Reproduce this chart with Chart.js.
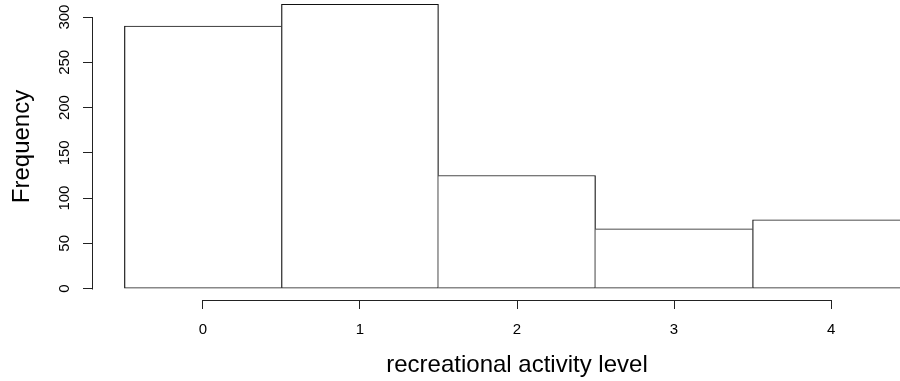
<!DOCTYPE html>
<html>
<head>
<meta charset="utf-8">
<title>Recreational activity level</title>
<script src="https://cdn.jsdelivr.net/npm/chart.js@4/dist/chart.umd.min.js"></script>
<style>
  html, body { margin: 0; padding: 0; background: #fff; overflow: hidden; }
  /* plot region runs past the right and top edges of the page, like R's usr range */
  #wrap { width: 941px; height: 388px; margin-top: -7px; }
</style>
</head>
<body>
<div id="wrap"><canvas id="histChart"></canvas></div>
<script>
// Histogram data: activity level (bin centre) and number of respondents
const activityLevels = [0, 1, 2, 3, 4];
const frequencies = [290, 314, 125, 66, 76];

// Axis ticks
const xTicks = [0, 1, 2, 3, 4];
const yTicks = [0, 50, 100, 150, 200, 250, 300];

const FONT = 'Liberation Sans, Arial, Helvetica, sans-serif';
const INK = '#222';

// Only draw a shared side once (on the taller bar)
function barBorder(ctx) {
    const i = ctx.dataIndex;
    const h = frequencies[i];
    const prev = i > 0 ? frequencies[i - 1] : -Infinity;
    const next = i < frequencies.length - 1 ? frequencies[i + 1] : -Infinity;
    return {
        top: 1,
        bottom: 1,
        left: prev < h ? 1.2 : 0,
        right: next <= h ? 1.2 : 0
    };
}

// R-style axis lines: they only span the first to the last tick
const axisLines = {
    id: 'axisLines',
    afterDraw(chart) {
        const { ctx, scales: { x, y } } = chart;
        ctx.save();
        ctx.strokeStyle = INK;
        ctx.lineWidth = 1;
        ctx.beginPath();
        const yx = Math.round(y.right) - 0.5;
        ctx.moveTo(yx, Math.round(y.getPixelForValue(yTicks[0])) + 0.5);
        ctx.lineTo(yx, Math.round(y.getPixelForValue(yTicks[yTicks.length - 1])));
        const xy = Math.round(x.top) + 0.5;
        ctx.moveTo(Math.round(x.getPixelForValue(xTicks[0])), xy);
        ctx.lineTo(Math.round(x.getPixelForValue(xTicks[xTicks.length - 1])) + 1, xy);
        ctx.stroke();
        ctx.restore();
    }
};

const ctx = document.getElementById('histChart').getContext('2d');
new Chart(ctx, {
    type: 'bar',
    data: {
        datasets: [{
            data: activityLevels.map((v, i) => ({ x: v, y: frequencies[i] })),
            backgroundColor: '#fff',
            borderColor: '#111',
            borderWidth: barBorder,
            borderSkipped: false,
            barPercentage: 1,
            categoryPercentage: 1
        }]
    },
    options: {
        responsive: true,
        maintainAspectRatio: false,
        animation: false,
        layout: { padding: 0 },
        plugins: {
            legend: { display: false },
            tooltip: { enabled: false }
        },
        scales: {
            x: {
                type: 'linear',
                offset: false,
                min: -0.7,
                max: 4.7,
                afterBuildTicks: s => { s.ticks = xTicks.map(v => ({ value: v })); },
                afterFit: s => {
                    s.height = 81;
                    s.paddingLeft = 0;
                    s.paddingRight = 0;
                },
                border: { display: false },
                grid: {
                    offset: false,
                    drawOnChartArea: false,
                    drawTicks: true,
                    tickLength: 9,
                    tickColor: INK,
                    lineWidth: 1
                },
                ticks: {
                    padding: 12,
                    maxRotation: 0,
                    color: '#000',
                    font: { family: FONT, size: 15 }
                },
                title: {
                    display: true,
                    text: 'recreational activity level',
                    color: '#000',
                    font: { family: FONT, size: 24 },
                    padding: { top: 0, bottom: 1 }
                }
            },
            y: {
                min: -12.6,
                max: 326.6,
                afterBuildTicks: s => { s.ticks = yTicks.map(v => ({ value: v })); },
                afterFit: s => {
                    s.width = 93;
                    s.paddingTop = 0;
                    s.paddingBottom = 0;
                },
                border: { display: false },
                grid: {
                    drawOnChartArea: false,
                    drawTicks: true,
                    tickLength: 10,
                    tickColor: INK,
                    lineWidth: 1
                },
                ticks: {
                    padding: 6,
                    minRotation: 90,
                    maxRotation: 90,
                    crossAlign: 'center',
                    color: '#000',
                    font: { family: FONT, size: 15 }
                },
                title: {
                    display: true,
                    text: 'Frequency',
                    color: '#000',
                    font: { family: FONT, size: 24 },
                    padding: { top: 7.5, bottom: 0 }
                }
            }
        }
    },
    plugins: [axisLines]
});
</script>
</body>
</html>
